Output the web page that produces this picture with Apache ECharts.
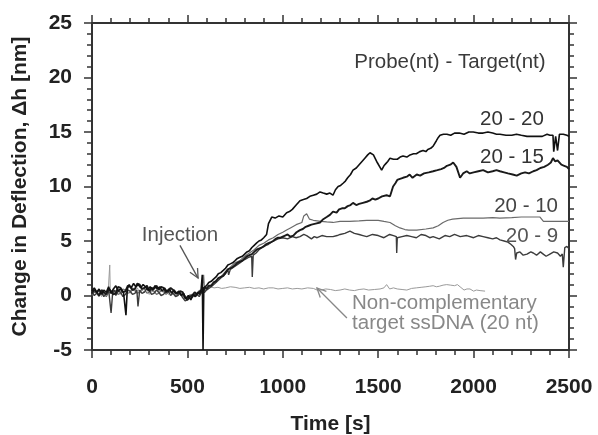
<!DOCTYPE html>
<html>
<head>
<meta charset="utf-8">
<script src="https://cdn.jsdelivr.net/npm/echarts@6/dist/echarts.min.js"></script>
<style>
html,body{margin:0;padding:0;background:#fff;}
#chart{width:598px;height:435px;}
</style>
</head>
<body>
<div id="chart"></div>
<script>
// ---- Data (time [s], deflection [nm]) ----
var xTicks = [0, 500, 1000, 1500, 2000, 2500];
var yTicks = [-5, 0, 5, 10, 15, 20, 25];

var seriesNames = ['Non-complementary', '20 - 10', '20 - 9', '20 - 15', '20 - 20'];

var nonComp = [[0,0.1],[12,0.4],[25,0.2],[37,0.5],[50,-0.1],[62,0.3],[75,0.2],[85,0.4],[93,2.8],[96,0.2],[110,0.5],[125,0.3],[137,0.6],[150,0.1],[162,0.4],[175,0.3],[188,0.6],[200,0.2],[212,0.5],[225,0.4],[238,0.7],[250,0.2],[262,0.5],[275,0.3],[288,0.6],[300,0.1],[312,0.4],[325,0.3],[338,0.5],[350,0.2],[362,0.4],[375,0.3],[388,0.5],[400,0.1],[412,0.3],[425,0.2],[438,0.4],[450,0.0],[462,0.2],[475,0.1],[488,0.0],[500,-0.2],[512,0.1],[525,0.0],[538,0.3],[550,0.2],[562,0.5],[575,0.4],[588,0.8],[601,0.6],[620,0.8],[640,0.7],[660,0.75],[680,0.65],[700,0.7],[725,0.8],[750,0.75],[775,0.65],[800,0.7],[825,0.75],[850,0.65],[875,0.7],[900,0.6],[925,0.7],[950,0.7],[975,0.6],[1000,0.65],[1025,0.7],[1050,0.6],[1075,0.65],[1100,0.6],[1130,0.7],[1160,0.65],[1180,0.5],[1200,0.5],[1225,0.6],[1250,0.55],[1275,0.45],[1300,0.5],[1325,0.6],[1350,0.5],[1375,0.45],[1400,0.55],[1425,0.6],[1450,0.5],[1480,0.55],[1510,0.6],[1530,0.7],[1544,1.0],[1560,0.6],[1580,0.7],[1600,0.6],[1625,0.55],[1650,0.5],[1675,0.65],[1700,0.7],[1725,0.75],[1750,0.8],[1770,0.85],[1788,0.9],[1805,0.8],[1820,0.85],[1840,0.95],[1859,1.0],[1880,0.95],[1900,0.9],[1915,1.0],[1929,0.8],[1950,0.5],[1965,0.6],[1981,0.6],[2000,0.4],[2015,0.5],[2034,0.45],[2060,0.4]];

var s2010 = [[0,0.0],[12,0.3],[25,0.2],[37,-0.1],[50,0.4],[62,0.1],[75,-0.1],[88,0.3],[100,0.2],[112,0.5],[125,0.4],[137,0.1],[150,0.2],[162,0.6],[175,0.5],[188,0.2],[200,0.3],[212,0.7],[225,0.5],[238,0.2],[250,0.3],[262,0.6],[275,0.6],[288,0.2],[300,0.3],[312,0.5],[325,0.4],[338,0.1],[350,0.2],[362,0.5],[375,0.4],[388,0.1],[400,0.3],[412,0.4],[425,0.2],[438,0.0],[450,0.1],[462,0.3],[475,0.0],[488,-0.3],[500,-0.2],[512,0.0],[525,0.1],[538,-0.1],[550,0.0],[562,0.3],[575,0.2],[585,1.9],[590,0.4],[600,0.5],[625,1.0],[650,1.4],[675,1.7],[700,2.2],[725,2.6],[750,3.0],[775,3.2],[800,3.6],[825,3.9],[850,4.2],[875,4.6],[900,4.8],[925,5.1],[950,5.3],[975,5.6],[1000,5.8],[1020,6.0],[1040,6.2],[1070,6.5],[1100,6.7],[1110,7.3],[1125,7.5],[1140,7.0],[1160,6.9],[1200,6.8],[1230,6.75],[1263,6.7],[1300,6.8],[1350,6.8],[1400,6.85],[1440,6.9],[1500,6.9],[1530,6.8],[1562,6.7],[1590,6.4],[1614,6.2],[1640,6.05],[1660,6.0],[1702,6.0],[1750,6.1],[1788,6.2],[1815,6.4],[1840,6.7],[1865,6.9],[1890,7.0],[1946,7.1],[2000,7.1],[2050,7.1],[2100,7.15],[2138,7.1],[2200,7.15],[2250,7.2],[2300,7.2],[2348,7.2],[2366,6.8],[2420,6.8],[2460,6.8],[2500,6.8]];

var s209 = [[0,0.3],[12,0.0],[25,0.2],[37,0.5],[50,0.3],[62,-0.1],[75,0.2],[88,0.4],[100,-1.6],[108,0.2],[118,0.5],[125,0.0],[137,0.4],[150,0.3],[162,-0.1],[175,0.1],[188,0.5],[200,0.4],[212,0.1],[225,0.2],[235,0.5],[241,-1.0],[250,0.5],[262,0.2],[275,0.3],[288,0.7],[300,0.5],[312,0.1],[325,0.2],[338,0.5],[350,0.3],[362,0.0],[375,0.1],[388,0.4],[400,0.4],[412,0.0],[425,0.2],[438,-0.1],[450,0.0],[462,0.2],[475,-0.2],[488,-0.5],[500,-0.4],[512,-0.1],[525,-0.2],[538,0.1],[550,0.1],[562,-0.1],[575,0.3],[590,0.3],[600,0.5],[625,0.8],[650,1.2],[675,1.6],[700,2.0],[712,2.4],[716,1.9],[725,2.4],[750,2.7],[775,3.0],[800,3.3],[820,3.5],[837,3.6],[840,1.7],[845,3.7],[860,3.9],[875,4.2],[900,4.5],[925,4.7],[950,5.0],[975,5.2],[1000,5.3],[1025,5.2],[1050,5.4],[1070,5.3],[1090,5.4],[1110,5.6],[1125,5.5],[1150,5.2],[1165,5.4],[1180,5.3],[1205,5.5],[1230,5.4],[1263,5.4],[1285,5.5],[1300,5.6],[1325,5.7],[1352,5.9],[1375,5.7],[1400,5.6],[1420,5.5],[1440,5.4],[1470,5.6],[1500,5.5],[1530,5.3],[1560,5.6],[1580,5.5],[1595,5.4],[1597,3.9],[1600,5.3],[1625,5.4],[1650,5.5],[1675,5.4],[1700,5.3],[1725,5.6],[1750,5.5],[1770,5.3],[1788,5.4],[1820,5.2],[1850,5.5],[1875,5.4],[1900,5.6],[1930,5.4],[1964,5.5],[2000,5.3],[2025,5.5],[2050,5.4],[2075,5.3],[2100,5.2],[2120,5.3],[2138,5.1],[2160,5.0],[2180,4.9],[2195,4.7],[2208,4.5],[2215,4.3],[2220,3.3],[2226,3.9],[2243,4.0],[2260,3.7],[2280,3.8],[2300,4.0],[2313,3.9],[2330,3.7],[2350,4.0],[2365,3.8],[2380,3.6],[2400,3.8],[2420,4.0],[2440,3.9],[2455,3.6],[2465,3.8],[2470,2.6],[2478,4.4],[2489,4.5],[2500,4.3]];

var s2015 = [[0,0.2],[12,0.5],[25,0.3],[37,0.0],[50,0.5],[62,0.3],[75,0.1],[88,0.6],[100,0.4],[112,0.1],[125,0.2],[137,0.8],[150,0.7],[162,0.3],[175,0.4],[188,0.9],[200,0.8],[212,0.5],[225,0.6],[238,1.1],[250,1.0],[262,0.6],[275,0.7],[288,0.9],[300,0.4],[312,0.7],[325,0.6],[338,0.9],[350,0.5],[362,0.8],[375,0.7],[388,0.3],[400,0.4],[412,0.7],[425,0.5],[438,0.2],[450,0.2],[462,0.4],[475,0.3],[488,-0.2],[500,-0.4],[512,-0.1],[525,0.0],[538,0.3],[550,0.1],[565,0.4],[580,0.3],[592,0.8],[600,0.6],[612,0.9],[625,0.9],[637,1.2],[650,1.3],[662,1.6],[675,1.7],[688,1.8],[700,2.1],[712,2.4],[725,2.5],[737,2.6],[750,2.8],[762,3.0],[775,3.1],[788,3.2],[800,3.4],[812,3.6],[825,3.7],[838,3.8],[850,4.0],[862,4.2],[875,4.3],[888,4.4],[900,4.5],[912,4.7],[925,4.8],[938,4.9],[950,5.0],[962,5.2],[975,5.3],[988,5.3],[1000,5.4],[1012,5.5],[1025,5.6],[1040,5.4],[1055,5.5],[1072,5.8],[1090,6.0],[1105,6.1],[1120,6.3],[1135,6.4],[1150,6.5],[1172,6.6],[1195,6.7],[1212,7.0],[1230,7.2],[1247,7.4],[1263,7.7],[1282,7.6],[1295,7.9],[1310,8.0],[1325,8.0],[1340,8.2],[1355,8.3],[1368,8.5],[1385,8.3],[1400,8.4],[1420,8.5],[1440,8.6],[1455,8.7],[1470,8.9],[1485,8.8],[1500,8.9],[1520,9.1],[1544,9.2],[1562,9.1],[1578,10.0],[1590,10.3],[1600,10.6],[1614,10.7],[1630,10.8],[1650,10.9],[1665,11.1],[1680,10.8],[1702,11.1],[1720,11.0],[1740,11.2],[1765,11.3],[1788,11.4],[1810,11.5],[1830,11.6],[1845,11.7],[1860,11.9],[1878,12.0],[1893,12.2],[1910,11.8],[1929,10.8],[1945,11.2],[1964,11.4],[1980,11.2],[2000,11.3],[2025,11.4],[2050,11.5],[2075,11.3],[2100,11.4],[2120,11.5],[2138,11.4],[2160,11.3],[2180,11.2],[2205,11.1],[2226,11.0],[2250,11.2],[2270,11.3],[2290,11.2],[2313,11.4],[2330,11.5],[2350,11.7],[2370,11.8],[2390,12.0],[2405,12.2],[2416,12.6],[2428,12.3],[2440,12.4],[2460,12.0],[2475,11.9],[2489,11.8],[2500,11.6]];

var s2020 = [[0,0.4],[12,0.7],[25,0.3],[37,0.6],[50,0.1],[62,0.5],[75,0.3],[87,0.8],[100,0.2],[112,0.6],[125,0.9],[137,0.4],[150,0.6],[165,0.3],[178,-1.8],[185,0.6],[195,1.0],[205,0.7],[218,1.1],[230,0.8],[242,1.0],[255,0.7],[268,1.0],[280,0.8],[292,0.5],[305,0.8],[318,0.5],[330,0.9],[342,0.6],[355,0.8],[368,0.4],[380,0.7],[392,0.4],[405,0.6],[418,0.2],[430,0.5],[442,0.2],[455,0.4],[468,0.0],[480,0.2],[492,-0.3],[505,0.0],[518,-0.4],[530,0.1],[542,-0.1],[555,0.3],[565,0.1],[572,0.6],[578,1.9],[582,-5],[586,0.7],[600,0.9],[612,1.2],[625,1.3],[637,1.5],[650,1.7],[662,2.0],[675,2.1],[688,2.3],[700,2.5],[712,2.8],[725,2.9],[737,3.0],[750,3.2],[762,3.4],[775,3.5],[788,3.6],[800,3.8],[812,4.0],[825,4.1],[838,4.4],[850,4.6],[862,4.8],[875,5.0],[888,5.1],[900,5.3],[915,5.6],[925,6.6],[942,7.2],[960,7.1],[980,7.3],[1000,7.2],[1020,7.6],[1035,7.7],[1050,7.9],[1070,8.3],[1090,8.7],[1108,8.8],[1125,8.9],[1142,9.1],[1160,9.2],[1178,9.3],[1195,9.5],[1212,9.4],[1230,9.3],[1247,9.4],[1263,9.2],[1276,9.7],[1290,10.0],[1303,10.1],[1316,10.3],[1328,10.5],[1340,10.8],[1355,11.1],[1368,11.5],[1385,11.7],[1400,12.0],[1415,12.3],[1430,12.6],[1445,12.9],[1457,13.1],[1475,12.9],[1495,12.2],[1518,11.5],[1530,11.9],[1540,12.1],[1550,12.3],[1562,12.6],[1580,12.5],[1600,12.5],[1615,12.7],[1630,12.8],[1650,12.7],[1667,12.9],[1685,13.0],[1700,13.0],[1718,13.2],[1735,13.3],[1750,13.2],[1760,13.4],[1775,13.5],[1788,13.7],[1805,14.2],[1815,14.5],[1824,14.7],[1842,14.8],[1860,14.8],[1880,14.7],[1900,14.9],[1925,14.9],[1950,14.8],[1975,15.0],[1998,15.0],[2025,14.9],[2050,14.9],[2075,15.0],[2100,14.9],[2120,14.8],[2138,14.8],[2170,14.7],[2200,14.7],[2225,14.8],[2250,14.7],[2280,14.6],[2313,14.6],[2340,14.6],[2360,14.6],[2385,14.8],[2400,14.7],[2416,14.7],[2420,13.2],[2430,14.6],[2440,13.3],[2450,14.8],[2470,14.8],[2489,14.7],[2500,14.6]];

// ---- Annotations (data coordinates) ----
var textLabels = [
  {text: 'Probe(nt) - Target(nt)', at: [1876, 21.4], align: 'center', color: '#3a3a3a'},
  {text: '20 - 20', at: [2201, 16.2], align: 'center', color: '#333'},
  {text: '20 - 15', at: [2201, 12.7], align: 'center', color: '#333'},
  {text: '20 - 10', at: [2275, 8.2], align: 'center', color: '#444'},
  {text: '20 - 9', at: [2306, 5.46], align: 'center', color: '#555'},
  {text: 'Injection', at: [461, 5.55], align: 'center', color: '#555'},
  {text: 'Non-complementary', at: [1363, -0.73], align: 'left', color: '#888'},
  {text: 'target ssDNA (20 nt)', at: [1363, -2.6], align: 'left', color: '#888'}
];
var arrows = [
  {from: [461, 4.6], to: [556, 1.6], color: '#555'},
  {from: [1336, -2.06], to: [1179, 0.69], color: '#888'}
];

var FONT = '"Liberation Sans", Arial, Helvetica, sans-serif';
var chart = echarts.init(document.getElementById('chart'), null, {renderer: 'canvas'});

function axisCommon(isX, showLabel) {
  return {
    type: 'value',
    min: isX ? xTicks[0] : yTicks[0],
    max: isX ? xTicks[xTicks.length - 1] : yTicks[yTicks.length - 1],
    interval: isX ? (xTicks[1] - xTicks[0]) : (yTicks[1] - yTicks[0]),
    axisLine: {show: true, onZero: false, lineStyle: {color: '#333', width: 2}},
    axisTick: {show: true, inside: false, length: 8, lineStyle: {color: '#333', width: 1.5}},
    minorTick: {show: true, splitNumber: 5, length: 5, lineStyle: {color: '#333', width: 1.5}},
    splitLine: {show: false},
    minorSplitLine: {show: false},
    axisLabel: {
      show: showLabel,
      fontFamily: FONT, fontWeight: 'bold', fontSize: 21, color: '#222',
      margin: isX ? 27 : 20,
      formatter: function (v) { return String(v); }
    }
  };
}

var xMain = axisCommon(true, true);
xMain.position = 'bottom';
xMain.name = 'Time [s]';
xMain.nameLocation = 'middle';
xMain.nameGap = 64;
xMain.nameTextStyle = {fontFamily: FONT, fontWeight: 'bold', fontSize: 21, color: '#222'};
var xTop = axisCommon(true, false);
xTop.position = 'top';

var yMain = axisCommon(false, true);
yMain.position = 'left';
yMain.name = 'Change in Deflection, \u0394h [nm]';
yMain.nameLocation = 'middle';
yMain.nameGap = 61;
yMain.nameTextStyle = {fontFamily: FONT, fontWeight: 'bold', fontSize: 21, color: '#222'};
var yRight = axisCommon(false, false);
yRight.position = 'right';

function lineSeries(name, data, color, width) {
  return {
    name: name, type: 'line', data: data, xAxisIndex: 0, yAxisIndex: 0,
    showSymbol: false, symbol: 'none', animation: false,
    lineStyle: {color: color, width: width}, z: 2
  };
}

chart.setOption({
  animation: false,
  backgroundColor: '#fff',
  grid: {left: 92, right: 29, top: 23, bottom: 85, containLabel: false, outerBoundsMode: 'none'},
  xAxis: [xMain, xTop],
  yAxis: [yMain, yRight],
  series: [
    lineSeries(seriesNames[0], nonComp, '#9a9a9a', 1),
    lineSeries(seriesNames[1], s2010, '#6a6a6a', 1.2),
    lineSeries(seriesNames[2], s209, '#3c3c3c', 1.4),
    lineSeries(seriesNames[3], s2015, '#1a1a1a', 1.9),
    lineSeries(seriesNames[4], s2020, '#111', 1.6)
  ]
});

// Build annotations from data coordinates
var graphics = [];
textLabels.forEach(function (t) {
  var p = chart.convertToPixel({gridIndex: 0}, t.at);
  graphics.push({
    type: 'text', x: p[0], y: p[1], z: 10,
    style: {text: t.text, fill: t.color, font: '20.5px ' + FONT,
            textAlign: t.align, textVerticalAlign: 'middle'}
  });
});
arrows.forEach(function (a) {
  var p0 = chart.convertToPixel({gridIndex: 0}, a.from);
  var p1 = chart.convertToPixel({gridIndex: 0}, a.to);
  var ang = Math.atan2(p1[1] - p0[1], p1[0] - p0[0]);
  var L = 10, w = 0.45;
  var h1 = [p1[0] - L * Math.cos(ang - w), p1[1] - L * Math.sin(ang - w)];
  var h2 = [p1[0] - L * Math.cos(ang + w), p1[1] - L * Math.sin(ang + w)];
  graphics.push({type: 'polyline', z: 10, shape: {points: [p0, p1]},
    style: {stroke: a.color, lineWidth: 1.3, fill: null}});
  graphics.push({type: 'polyline', z: 10, shape: {points: [h1, p1, h2]},
    style: {stroke: a.color, lineWidth: 1.3, fill: null}});
});
chart.setOption({graphic: graphics});
</script>
</body>
</html>
